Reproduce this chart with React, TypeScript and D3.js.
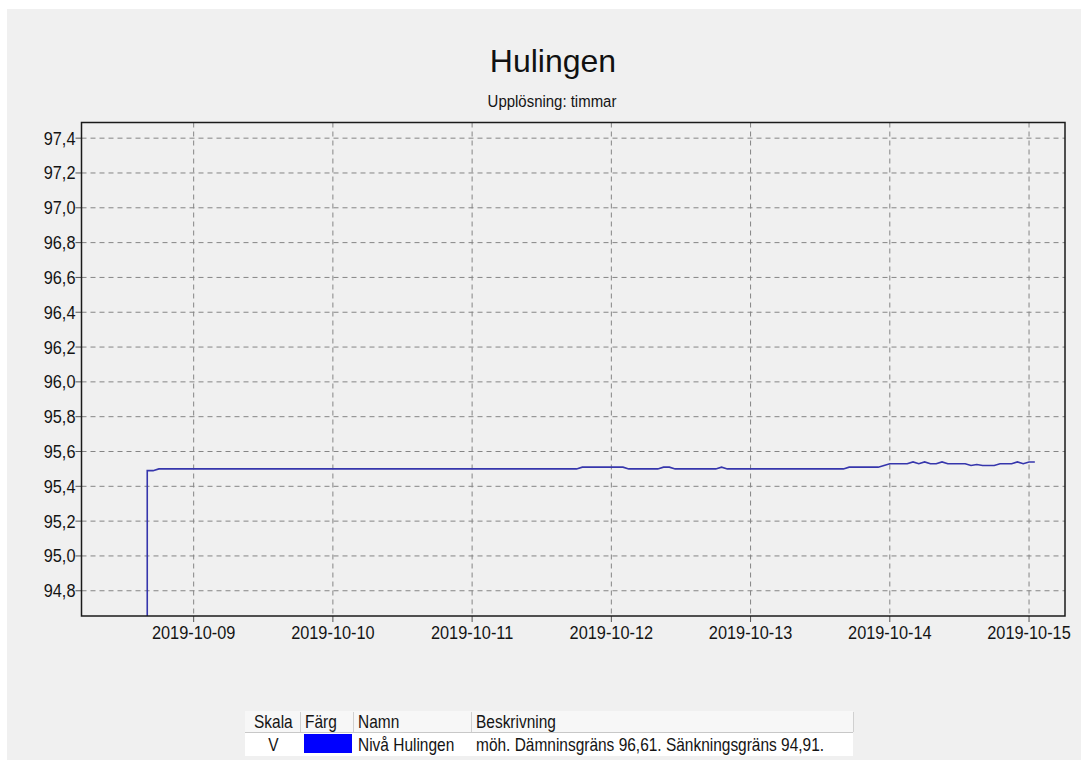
import React from "react";
import { scaleTime, scaleLinear, line, timeParse } from "d3";

// Nivå Hulingen, timvärden (förändringspunkter)
const levelTimes = [
  "2019-10-08 16:00", "2019-10-08 16:00", "2019-10-08 17:00", "2019-10-08 18:00",
  "2019-10-11 18:00", "2019-10-11 19:00", "2019-10-12 02:00", "2019-10-12 03:00",
  "2019-10-12 08:00", "2019-10-12 09:00", "2019-10-12 10:00", "2019-10-12 11:00",
  "2019-10-12 18:00", "2019-10-12 19:00", "2019-10-12 20:00",
  "2019-10-13 16:00", "2019-10-13 17:00", "2019-10-13 22:00", "2019-10-13 23:00",
  "2019-10-14 00:00", "2019-10-14 03:00", "2019-10-14 04:00", "2019-10-14 05:00",
  "2019-10-14 06:00", "2019-10-14 07:00", "2019-10-14 08:00", "2019-10-14 09:00",
  "2019-10-14 10:00", "2019-10-14 13:00", "2019-10-14 14:00", "2019-10-14 15:00",
  "2019-10-14 16:00", "2019-10-14 18:00", "2019-10-14 19:00", "2019-10-14 21:00",
  "2019-10-14 22:00", "2019-10-14 23:00", "2019-10-15 00:00", "2019-10-15 01:00"
];
const levelValues = [
  94.0, 95.49, 95.49, 95.5,
  95.5, 95.51, 95.51, 95.5,
  95.5, 95.51, 95.51, 95.5,
  95.5, 95.51, 95.5,
  95.5, 95.51, 95.51, 95.52,
  95.53, 95.53, 95.54, 95.53,
  95.54, 95.53, 95.53, 95.54,
  95.53, 95.53, 95.52, 95.525,
  95.52, 95.52, 95.53, 95.53,
  95.54, 95.53, 95.54, 95.54
];

const yTicks = [94.8, 95.0, 95.2, 95.4, 95.6, 95.8, 96.0, 96.2, 96.4, 96.6, 96.8, 97.0, 97.2, 97.4];
const xTicks = ["2019-10-09", "2019-10-10", "2019-10-11", "2019-10-12", "2019-10-13", "2019-10-14", "2019-10-15"];

const legendHeaders = ["Skala", "Färg", "Namn", "Beskrivning"];
const legendRow = ["V", "", "Nivå Hulingen", "möh. Dämninsgräns 96,61. Sänkningsgräns 94,91."];

const parseHour = timeParse("%Y-%m-%d %H:%M");
const parseDay = timeParse("%Y-%m-%d");

const W = 1081;
const H = 760;
const plot = { left: 81.5, top: 122.5, right: 1065, bottom: 616 };
const font = "'Liberation Sans', Arial, sans-serif";

function Label({ x, y, size, sx = 1, anchor = "start", children, fill = "#141414" }: any) {
  return (
    <g transform={`translate(${x},${y}) scale(${sx},1)`}>
      <text fontFamily={font} fontSize={size} textAnchor={anchor} fill={fill}>
        {children}
      </text>
    </g>
  );
}

export default function App() {
  const x = scaleTime()
    .domain([new Date(2019, 9, 8, 4, 40), new Date(2019, 9, 15, 6, 12)])
    .range([plot.left, plot.right]);
  const y = scaleLinear().domain([94.655, 97.49]).range([plot.bottom, plot.top]);

  const points = levelTimes.map((t, i) => ({ t: parseHour(t)!, v: levelValues[i] }));
  const path = line<{ t: Date; v: number }>()
    .x((d) => x(d.t))
    .y((d) => y(d.v))(points);

  const fmt = (v: number) => v.toFixed(1).replace(".", ",");

  // legend geometry
  const colX = [245, 300, 353, 471, 853];
  const rowY = [711, 733, 756];

  return (
    <svg width={W} height={H} style={{ position: "absolute", left: 0, top: 0 }}>
      <rect x={0} y={0} width={W} height={H} fill="#ffffff" />
      <rect x={7} y={9} width={W - 7} height={H - 9} fill="#f0f0f0" />

      <Label x={553} y={72} size={32} anchor="middle" fill="#111">Hulingen</Label>
      <Label x={552} y={107} size={17} sx={0.88} anchor="middle">Upplösning: timmar</Label>

      <defs>
        <clipPath id="plotClip">
          <rect x={plot.left} y={plot.top} width={plot.right - plot.left} height={plot.bottom - plot.top} />
        </clipPath>
      </defs>

      {/* grid */}
      {yTicks.map((v) => (
        <g key={v}>
          <line x1={plot.left} x2={plot.right} y1={y(v)} y2={y(v)} stroke="#858585" strokeDasharray="5,4" />
          <line x1={plot.left - 6} x2={plot.left} y1={y(v)} y2={y(v)} stroke="#555" />
          <Label x={plot.left - 6} y={y(v) + 6.5} size={19} sx={0.86} anchor="end">{fmt(v)}</Label>
        </g>
      ))}
      {xTicks.map((d) => {
        const px = x(parseDay(d)!);
        return (
          <g key={d}>
            <line x1={px} x2={px} y1={plot.top} y2={plot.bottom} stroke="#858585" strokeDasharray="5,4" />
            <line x1={px} x2={px} y1={plot.bottom} y2={plot.bottom + 6} stroke="#555" />
            <Label x={px} y={639} size={19} sx={0.86} anchor="middle">{d}</Label>
          </g>
        );
      })}

      <path d={path ?? ""} fill="none" stroke="#3636ac" strokeWidth={1.6} clipPath="url(#plotClip)" />

      <rect
        x={plot.left}
        y={plot.top}
        width={plot.right - plot.left}
        height={plot.bottom - plot.top}
        fill="none"
        stroke="#1a1a1a"
        strokeWidth={1.5}
      />

      {/* legend table */}
      <rect x={colX[0]} y={rowY[0]} width={colX[4] - colX[0]} height={rowY[1] - rowY[0]} fill="#f7f7f7" />
      <line x1={colX[0]} x2={colX[4]} y1={rowY[1] - 0.5} y2={rowY[1] - 0.5} stroke="#c8c8c8" />
      <rect x={colX[0]} y={rowY[1]} width={colX[4] - colX[0]} height={rowY[2] - rowY[1]} fill="#ffffff" />
      {colX.slice(1).map((cx, i) => (
        <line key={i} x1={cx + 0.5} x2={cx + 0.5} y1={rowY[0] + 1} y2={rowY[1] - 1} stroke="#d0d0d0" />
      ))}
      {legendHeaders.map((h, i) => (
        <Label key={h} x={colX[i] + (i === 0 ? 9 : 5)} y={728} size={18} sx={0.86}>{h}</Label>
      ))}
      <Label x={(colX[0] + colX[1]) / 2 + 1} y={751} size={18} sx={0.86} anchor="middle">{legendRow[0]}</Label>
      <rect x={colX[1] + 4} y={rowY[1] + 1} width={colX[2] - colX[1] - 5} height={rowY[2] - rowY[1] - 4} fill="#0000ff" />
      <Label x={colX[2] + 5} y={751} size={18} sx={0.86}>{legendRow[2]}</Label>
      <Label x={colX[3] + 5} y={751} size={18} sx={0.86}>{legendRow[3]}</Label>
    </svg>
  );
}
